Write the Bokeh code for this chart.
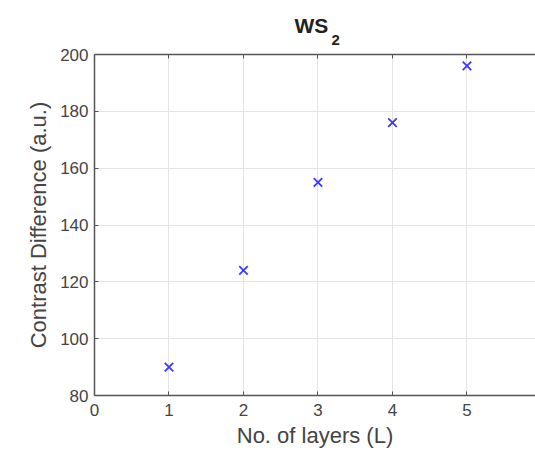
from bokeh.plotting import figure
from bokeh.models import Range1d, LinearAxis, FixedTicker, Title
from bokeh.embed import file_html
from bokeh.resources import INLINE

layers = [1, 2, 3, 4, 5]
contrast = [90, 124, 155, 176, 196]
x_ticks = [0, 1, 2, 3, 4, 5, 6]
y_ticks = [80, 100, 120, 140, 160, 180, 200]
title_main = "WS"
title_sub = "2"

FONT = "Liberation Sans"

p = figure(width=535, height=450, output_backend="svg", toolbar_location=None,
           x_range=Range1d(0, 5.92), y_range=Range1d(80, 200),
           min_border_left=94, min_border_right=0, min_border_top=54, min_border_bottom=48,
           x_axis_label="No. of layers (L)", y_axis_label="Contrast Difference (a.u.)")
p.outline_line_color = None
p.background_fill_color = "white"
p.border_fill_color = "white"

p.title = Title(text=title_main, align="left", offset=200, standoff=-28,
                text_font=FONT, text_font_size="21px", text_font_style="bold",
                text_color="#222222")

for ax in (p.xaxis[0], p.yaxis[0]):
    ax.major_tick_in = 4
    ax.major_tick_out = 0
    ax.minor_tick_line_color = None
    ax.axis_line_color = "#555555"
    ax.axis_line_width = 1.5
    ax.major_tick_line_color = "#555555"
    ax.major_label_text_font = FONT
    ax.major_label_text_font_size = "17px"
    ax.major_label_text_color = "#444444"
    ax.axis_label_text_font = FONT
    ax.axis_label_text_font_size = "22px"
    ax.axis_label_text_font_style = "normal"
    ax.axis_label_text_color = "#444444"

p.xaxis[0].ticker = FixedTicker(ticks=x_ticks)
p.yaxis[0].ticker = FixedTicker(ticks=y_ticks)
p.xaxis[0].major_label_standoff = 8
p.xaxis[0].axis_label_standoff = 4
p.yaxis[0].major_label_standoff = 6
p.yaxis[0].axis_label_standoff = 6

top = LinearAxis(ticker=FixedTicker(ticks=x_ticks), major_label_text_font_size="0px",
                 major_tick_in=4, major_tick_out=0, minor_tick_line_color=None,
                 axis_line_color="#555555", axis_line_width=1.5,
                 major_tick_line_color="#555555")
p.add_layout(top, "above")

sub = Title(text=title_sub, align="left", offset=237, standoff=20,
            text_font=FONT, text_font_size="15px", text_font_style="bold",
            text_color="#222222")
p.add_layout(sub, "above")

p.xgrid.ticker = FixedTicker(ticks=x_ticks)
p.ygrid.ticker = FixedTicker(ticks=y_ticks)
p.grid.grid_line_color = "#e4e4e4"
p.grid.grid_line_width = 1

p.scatter(layers, contrast, marker="x", size=12, line_color="#3a3aff", line_width=1.8)

open("out.html", "w").write(file_html(p, INLINE))
